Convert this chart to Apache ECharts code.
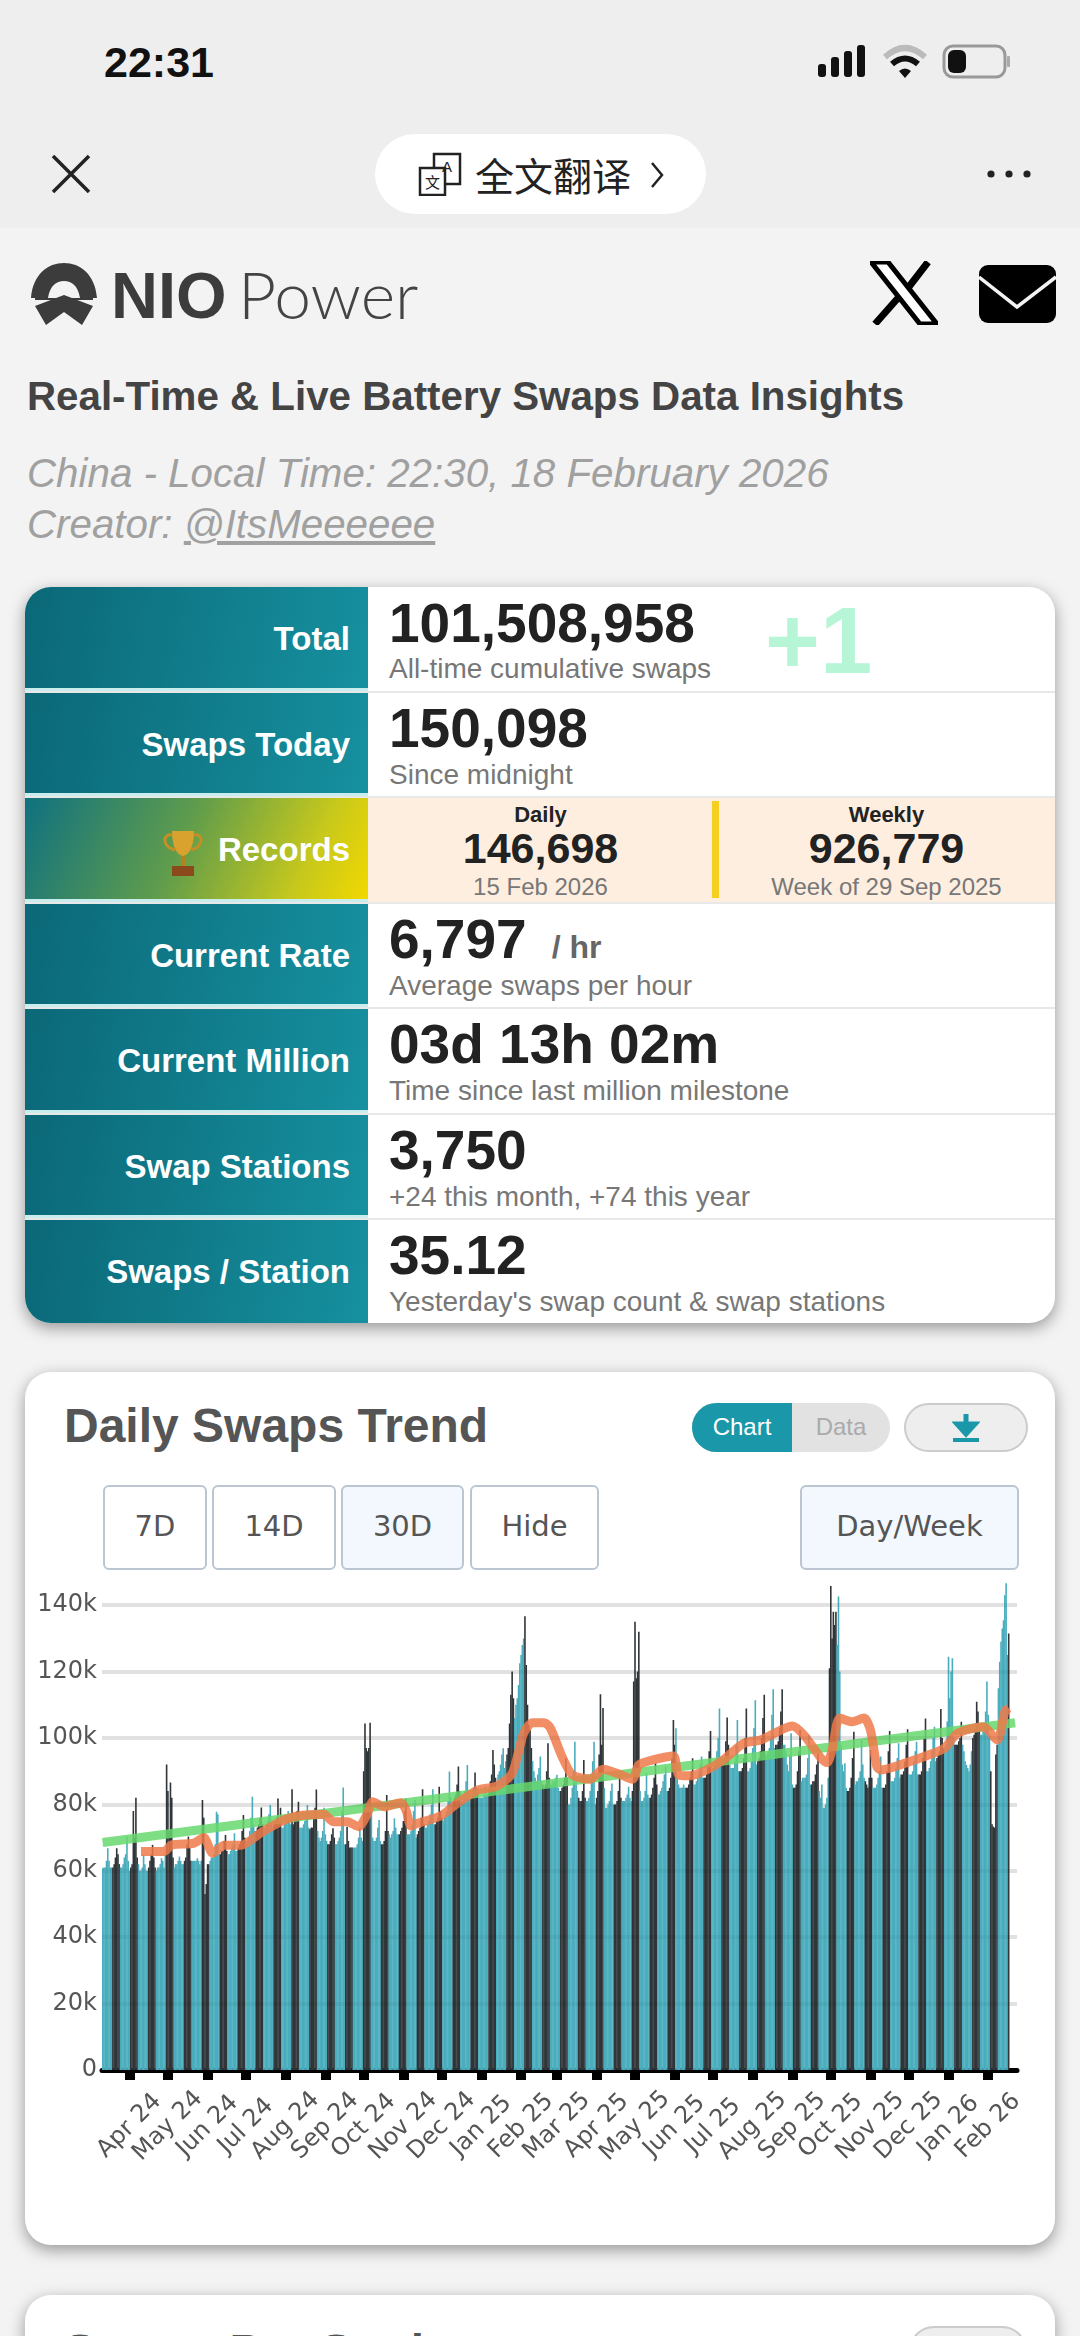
<!DOCTYPE html>
<html lang="en">
<head>
<meta charset="UTF-8">
<title>NIO Power - Battery Swaps</title>
<script src="https://cdn.jsdelivr.net/npm/echarts@6/dist/echarts.min.js"></script>
<style>
  html, body { margin: 0; padding: 0; }
  body { width: 1080px; height: 2336px; background: #f3f3f3; position: relative; overflow: hidden; font-family: "Liberation Sans", Arial, sans-serif; }
  .abs { position: absolute; white-space: nowrap; line-height: 1; }
  .topbar { position: absolute; left: 0; top: 0; width: 1080px; height: 228px; background: #eeeeee; }
  .pill { position: absolute; left: 375px; top: 134px; width: 331px; height: 80px; border-radius: 40px; background: #fff; }
  .card { position: absolute; left: 25px; width: 1030px; background: #fff; border-radius: 26px; box-shadow: 0 5px 16px rgba(0,0,0,.38); overflow: hidden; }
  .row { position: absolute; left: 0; width: 1030px; height: 105.5px; border-bottom: 2px solid #e8e8e8; box-sizing: border-box; }
  .row:last-child { border-bottom: 0; }
  .lab { position: absolute; left: 0; top: 0; width: 343px; height: 100%; box-sizing: border-box; padding-right: 18px; text-align: right; color: #fff; font-weight: bold; font-size: 33px; line-height: 103px; background: linear-gradient(100deg, #0b6877, #16909f); border-bottom: 3px solid #c9ecec; }
  .val { position: absolute; left: 364px; top: 8px; font-size: 55px; font-weight: bold; color: #222; line-height: 1; white-space: nowrap; }
  .sub { position: absolute; left: 364px; top: 68px; font-size: 28px; color: #777; line-height: 1; white-space: nowrap; }
  .rec { position: absolute; width: 345px; text-align: center; }
  .btn { position: absolute; top: 1485px; height: 85px; box-sizing: border-box; border: 2px solid #bcc6d2; border-radius: 6px; background: #fff; color: #555; font-family: "DejaVu Sans", sans-serif; font-size: 29px; line-height: 78px; text-align: center; }
  #main { position: absolute; left: 25px; top: 1560px; width: 1030px; height: 680px; }
</style>
</head>
<body>

<!-- phone status bar and browser bar -->
<div class="topbar"></div>
<div class="abs" style="left:104px;top:41px;font-size:43px;font-weight:bold;color:#111;">22:31</div>
<svg class="abs" style="left:815px;top:42px;" width="200" height="40">
  <rect x="3" y="22" width="8" height="13" rx="3" fill="#111"/>
  <rect x="16" y="15" width="8" height="20" rx="3" fill="#111"/>
  <rect x="29" y="9" width="8" height="26" rx="3" fill="#111"/>
  <rect x="42" y="3" width="8" height="32" rx="3" fill="#111"/>
  <path d="M70 15 Q90 -3 110 15" fill="none" stroke="#bbb" stroke-width="6"/>
  <path d="M77 22 Q90 11 103 22" fill="none" stroke="#111" stroke-width="6"/>
  <path d="M84 29 L90 36 L96 29 Q90 24 84 29 Z" fill="#111"/>
  <rect x="129" y="4" width="61" height="31" rx="9" fill="none" stroke="#999" stroke-width="3"/>
  <rect x="133" y="8" width="18" height="23" rx="6" fill="#111"/>
  <rect x="192" y="14" width="3" height="11" rx="1" fill="#aaa"/>
</svg>
<svg class="abs" style="left:50px;top:153px;" width="42" height="42">
  <path d="M3 3 L39 39 M39 3 L3 39" stroke="#222" stroke-width="3.5" fill="none"/>
</svg>
<div class="pill"></div>
<svg class="abs" style="left:418px;top:152px;" width="44" height="44">
  <rect x="16" y="2" width="26" height="30" fill="#fff" stroke="#222" stroke-width="2.5"/>
  <rect x="2" y="16" width="25" height="27" fill="#fff" stroke="#222" stroke-width="2.5"/>
  <text x="24" y="20" font-size="15" font-family="Liberation Sans" fill="#222">A</text>
  <text x="7" y="36" font-size="15" font-family="Noto Sans CJK SC" fill="#222">文</text>
</svg>
<div class="abs" style="left:475px;top:155px;font-size:39px;color:#222;font-family:'Noto Sans CJK SC';">全文翻译</div>
<svg class="abs" style="left:648px;top:160px;" width="18" height="30">
  <path d="M4 3 L14 15 L4 27" fill="none" stroke="#222" stroke-width="2.5"/>
</svg>
<svg class="abs" style="left:985px;top:167px;" width="50" height="14">
  <circle cx="6" cy="7" r="3.6" fill="#222"/><circle cx="24" cy="7" r="3.6" fill="#222"/><circle cx="42" cy="7" r="3.6" fill="#222"/>
</svg>

<!-- logo row -->
<svg class="abs" style="left:30px;top:262px;" width="70" height="64">
  <path d="M1 36 C3 12 18 1 34 1 C50 1 65 12 67 36 L50 36 C48 24 42 19 34 19 C26 19 20 24 18 36 Z" fill="#3c3c3c"/>
  <path d="M5 44 L34 33 L63 44 L52 63 L34 50 L16 63 Z" fill="#3c3c3c"/>
  <path d="M5 36 H63 V38 H5 Z" fill="#3c3c3c"/>
</svg>
<div class="abs" style="left:111px;top:263px;font-size:65px;font-weight:bold;color:#3c3c3c;">NIO</div>
<div class="abs" style="left:238px;top:261px;font-size:66px;font-family:Lato,'Noto Sans';font-weight:300;color:#444;">Power</div>
<svg class="abs" style="left:870px;top:261px;" width="68" height="64">
  <path d="M1 1 H18 L67 63 H50 Z" fill="#fff" stroke="#000" stroke-width="5"/>
  <path d="M58 1 L38 27 M28 37 L5 63" stroke="#000" stroke-width="7" fill="none"/>
</svg>
<svg class="abs" style="left:979px;top:265px;" width="77" height="58">
  <rect width="77" height="58" rx="9" fill="#000"/>
  <path d="M0 12 L38 42 L77 12" stroke="#f3f3f3" stroke-width="3.5" fill="none"/>
</svg>

<div class="abs" style="left:27px;top:377px;font-size:40.3px;font-weight:bold;color:#444;">Real-Time &amp; Live Battery Swaps Data Insights</div>
<div class="abs" style="left:27px;top:454px;font-size:40.3px;font-style:italic;color:#a0a0a0;">China - Local Time: 22:30, 18 February 2026</div>
<div class="abs" style="left:27px;top:505px;font-size:40.3px;font-style:italic;color:#a0a0a0;">Creator: <span style="text-decoration:underline;">@ItsMeeeeee</span></div>

<!-- stats table -->
<div class="card" style="top:587px;height:736px;">
  <div class="row" style="top:0;"><div class="lab">Total</div><div class="val" style="top:9px;">101,508,958</div><div class="sub">All-time cumulative swaps</div>
    <div class="abs" style="left:740px;top:7px;font-size:94px;font-weight:bold;color:#b6f5d6;">+1</div></div>
  <div class="row" style="top:105.5px;"><div class="lab">Swaps Today</div><div class="val">150,098</div><div class="sub">Since midnight</div></div>
  <div class="row" style="top:211px;background:#fdeee0;"><div class="lab" style="background:linear-gradient(115deg,#0f7180 0%,#5f9c4c 45%,#c6c81c 80%,#f2d800 100%);">Records</div>
    <svg class="abs" style="left:135px;top:31px;" width="46" height="50">
      <path d="M12 2 H34 C34 18 29 26 23 27 C17 26 12 18 12 2 Z" fill="#d9a22e"/>
      <path d="M12 6 C2 4 2 18 15 21 M34 6 C44 4 44 18 31 21" fill="none" stroke="#c48f25" stroke-width="3"/>
      <rect x="21" y="27" width="4" height="10" fill="#b9801f"/>
      <rect x="12" y="37" width="22" height="10" fill="#8a4a1c"/>
    </svg>
    <div class="rec" style="left:343px;top:0;">
      <div class="abs" style="left:0;width:345px;top:6px;font-size:22px;font-weight:bold;color:#222;">Daily</div>
      <div class="abs" style="left:0;width:345px;top:29px;font-size:43px;font-weight:bold;color:#222;">146,698</div>
      <div class="abs" style="left:0;width:345px;top:77px;font-size:24px;color:#777;">15 Feb 2026</div>
    </div>
    <div class="abs" style="left:687px;top:3px;width:7px;height:97px;background:#f5d020;"></div>
    <div class="rec" style="left:689px;top:0;">
      <div class="abs" style="left:0;width:345px;top:6px;font-size:22px;font-weight:bold;color:#222;">Weekly</div>
      <div class="abs" style="left:0;width:345px;top:29px;font-size:43px;font-weight:bold;color:#222;">926,779</div>
      <div class="abs" style="left:0;width:345px;top:77px;font-size:24px;color:#777;">Week of 29 Sep 2025</div>
    </div>
  </div>
  <div class="row" style="top:316.5px;"><div class="lab">Current Rate</div><div class="val">6,797<span style="font-size:32px;color:#666;margin-left:25px;">/ hr</span></div><div class="sub">Average swaps per hour</div></div>
  <div class="row" style="top:422px;"><div class="lab">Current Million</div><div class="val">03d 13h 02m</div><div class="sub">Time since last million milestone</div></div>
  <div class="row" style="top:527.5px;"><div class="lab">Swap Stations</div><div class="val">3,750</div><div class="sub">+24 this month, +74 this year</div></div>
  <div class="row" style="top:633px;"><div class="lab" style="border-bottom:0;">Swaps / Station</div><div class="val">35.12</div><div class="sub">Yesterday's swap count &amp; swap stations</div></div>
</div>

<!-- chart card -->
<div class="card" style="top:1372px;height:873px;"></div>
<div class="abs" style="left:64px;top:1402px;font-size:48px;font-weight:bold;color:#555;">Daily Swaps Trend</div>
<div class="abs" style="left:692px;top:1403px;width:198px;height:49px;border-radius:25px;background:#e2e2e2;overflow:hidden;">
  <div class="abs" style="left:0;top:0;width:100px;height:49px;background:#1a97a8;color:#fff;font-size:24px;line-height:47px;text-align:center;">Chart</div>
  <div class="abs" style="left:100px;top:0;width:98px;height:49px;color:#aaa;font-size:24px;line-height:47px;text-align:center;">Data</div>
</div>
<div class="abs" style="left:904px;top:1403px;width:124px;height:49px;box-sizing:border-box;border-radius:25px;background:#eeeeee;border:2px solid #ccc;"></div>
<svg class="abs" style="left:952px;top:1413px;" width="28" height="30">
  <path d="M14 1 V14 M5 11 L14 21 L23 11 Z" stroke="#1a97a8" stroke-width="5" fill="#1a97a8"/>
  <rect x="1" y="25" width="26" height="4" fill="#1a97a8"/>
</svg>
<div class="btn" style="left:103px;width:104px;">7D</div>
<div class="btn" style="left:212px;width:124px;">14D</div>
<div class="btn" style="left:341px;width:123px;background:#f2f8fd;">30D</div>
<div class="btn" style="left:470px;width:129px;">Hide</div>
<div class="btn" style="left:800px;width:219px;background:#f2f8fd;">Day/Week</div>
<div id="main"></div>

<!-- next card, cut off by the screen -->
<div class="card" style="top:2295px;height:80px;"></div>
<div class="abs" style="left:64px;top:2328px;font-size:48px;font-weight:bold;color:#555;">Swaps Per Station</div>
<div class="abs" style="left:909px;top:2326px;width:114px;height:49px;border-radius:25px;background:#eeeeee;border:2px solid #ccc;"></div>

<script>
// dates
var firstDay = '2024-03-11';
var trailingDays = 6;   // empty room right of the last bar

var tickDates = ['2024-04-01','2024-05-01','2024-06-01','2024-07-01','2024-08-01','2024-09-01','2024-10-01','2024-11-01','2024-12-01',
  '2025-01-01','2025-02-01','2025-03-01','2025-04-01','2025-05-01','2025-06-01','2025-07-01','2025-08-01','2025-09-01','2025-10-01','2025-11-01','2025-12-01',
  '2026-01-01','2026-02-01'];
var tickLabels = ['Apr 24','May 24','Jun 24','Jul 24','Aug 24','Sep 24','Oct 24','Nov 24','Dec 24',
  'Jan 25','Feb 25','Mar 25','Apr 25','May 25','Jun 25','Jul 25','Aug 25','Sep 25','Oct 25','Nov 25','Dec 25',
  'Jan 26','Feb 26'];

// swaps per day in thousands, one row = one week
var dailySwapsK = [
  60.8,61,61,63,66.8,63,61,
  61,61,62,64,66.8,65,62,
  61,61,62,64,65,70.3,63,
  60,61,62,78,70,82,64,
  62,60,60,61,64.8,62,60,
  60,61,63,65,67.8,64,61,
  60,61,61,62,63.8,63,61,
  65,92,84,72,86.6,82,64,
  61,62,62,63,64.3,63,62,
  62,63,64,68,70.3,67,63,
  63,63,63,63,63.8,63,62,
  63,81.3,76,53,56,62,62,
  63,64,64,65,68,77.8,77,
  65,65,66,66,69,70.8,66,
  65,65,66,67,68,71.3,66,
  66,67,68,69,72,76.8,70,
  69,69,70,72,76,82.3,74,
  72,72,73,74,76,79.1,74,
  73,73,74,75,77,79.8,74,
  73,74,75,76,81.8,75,79,
  73,73,74,75,76,78,76,
  74,84.6,74,75,76,78,80.8,
  73,73,73,74,75,76,79.8,
  73,72.5,73,73,76,79,84.5,
  72,70,69,70,72,79,71,
  69,68,68,69,71,72.8,70,
  68,68,69,70,72,78,85.1,
  68,68,73.3,69,67,67,67,
  67,67,67,68,70,73,70,
  69,90,104.4,97,96,97,104.6,
  78,70,69,69,70,73,75.3,
  69,68,68,69,72,82.8,72,
  71,70,71,72,75.8,73,71,
  71,71,72,73,75,78,81.8,
  71,71,71,72,74,78,81.3,
  70,71,72,73,76,84.6,74,
  73,73,74,75,77,80,84.6,
  74,74,75,76,85.3,78,76,
  75,76,77,78,81,89.9,82,
  80,81,82,83,86,91.4,84,
  81,81,82,84,87,91.9,84,
  82,82,83,85,89.6,85,83,
  82,82,82,82,83,85.3,83,
  83,85,87,89,96.4,92,88,
  87,89,90,92,95,96.9,91,
  93,95,97,104.4,113,120,112,
  106,110,112,116,122.5,125,128,
  130,136.7,122,110,104,102.4,97,
  93,90,88,87,89,91,94.4,
  87,86,85,86,90,98.4,88,
  86,86,87,87,88,88.9,85,
  84,84,85,86,88,93.9,88,
  80,80,82,85,90,98.9,88,
  84,82,81,81,84,93.4,82,
  81,81,82,84,88,93,98.9,
  80,82,84,95,113.2,98,109,
  85,79,79,80,81,84,86.3,
  80,80,80,81,84,88.9,82,
  81,81,81,82,83,85.3,82,
  81,84,117,135,118,120,132,
  84,81,81,82,84,89.4,83,
  82,82,83,85,88,92.4,86,
  83,83,84,85,87,89,91.4,
  84,84,85,88,94,105.4,98,
  102.9,88,86,85,85,85,86,
  85,85,85,86,88,90,93.9,
  86,86,87,88,90,92,94.4,
  88,88,88,89,92,96,102.1,
  90,91,92,93,96,100,108.9,
  92,92,92,94,99,106.2,98,
  92,91,91,91,93,98,105.4,
  90,90,90,91,94,100,108.9,
  90,90,91,93,97,103,111.4,
  92,93,94,96,100,106,113,
  95,95,96,97,100,107,114.7,
  97,98,98,99,103,108,114.7,
  98,98,96,92,90,95,101.4,
  86,85,85,86,90,96,102.4,
  87,88,88,88,89,94,100.9,
  86,86,87,87,89,92,95.4,
  84,82,86,79,79,80,82,
  88,121,145.8,130,138,134,138,
  128,142.6,120,98,92,90,92.4,
  85,84,84,85,88,94,101.9,
  86,87,87,88,90,99.4,92,
  88,87,86,85,88,96.4,88,
  85,85,85,86,88,90,94.4,
  85,85,85,86,90,96,102.1,
  87,87,87,88,91,94,98.4,
  88,89,89,90,93,98,102.6,
  89,89,89,90,93,96,98.9,
  89,89,89,90,94,100,105.9,
  90,90,91,93,96,100,103.4,
  93,94,95,96,108.7,100,97,
  97,98,105,124.5,112,120,124,
  100,98,98,98,99,100,104.9,
  98,96,93,91.9,91,90,92,
  96,100,101,103,110.9,108,104,
  101,101,102,104,108,117,107,
  101,90,74,73.3,73,95,98,
  115,123,129,133,135.5,143,146.6,
  125,131.5
];

// 30 day average as [day number, thousands], read point by point
var averagePoints = [[30,65.8],[48,65.8],[54,67.8],[71,68.3],[79,70],[86,65.3],[95,67.7],[108,67.7],[123,71.3],[139,74.8],[152,76.5],[173,77],
  [180,74.8],[191,74.8],[200,73.3],[207,77.3],[211,80.8],[220,79.3],[233,80.5],[237,78.3],[241,73.5],[246,74.3],[264,76.5],[277,80.3],[293,84.3],
  [308,85.5],[320,89.4],[329,101.4],[336,104.6],[345,104.6],[350,102.9],[359,94.4],[367,88.9],[381,87.6],[391,90.6],[405,88.9],[414,87.6],[419,91.9],
  [430,93.4],[446,94.6],[450,88.9],[459,88.6],[472,90.4],[485,93.4],[501,98.4],[514,99.4],[530,102.4],[539,103.6],[548,100.9],[566,92.6],[570,96.4],
  [576,106],[586,104.9],[595,106],[600,102.4],[605,91.4],[608,90.4],[623,91.9],[649,95.4],[658,97],[668,101.4],[688,103.4],[699,99.4],[705,107.9],[708,109]];

// straight trend line, two ends
var trendPoints = [[0,68.5],[713,104.6]];

var yTicks = [0,20,40,60,80,100,120,140];

var days = [];
var d0 = new Date(firstDay + 'T00:00:00Z');
for (var i = 0; i < dailySwapsK.length + trailingDays; i++) {
  days.push(new Date(d0.getTime() + i * 86400000).toISOString().slice(0, 10));
}

// dark stripes repeat every two weeks
function barColor(params) {
  return params.dataIndex % 14 >= 8 ? '#2f3538' : '#4aadbd';
}

var chartDom = document.getElementById('main');
var myChart = echarts.init(chartDom);
var option;

option = {
  animation: false,
  grid: { left: 77, top: 12, width: 915, height: 498 },
  xAxis: {
    type: 'category',
    data: days,
    boundaryGap: true,
    axisLine: { lineStyle: { color: '#000', width: 5 } },
    axisTick: {
      show: true,
      alignWithLabel: true,
      length: 10,
      interval: function (index, value) { return tickDates.indexOf(value) >= 0; },
      lineStyle: { color: '#000', width: 10 }
    },
    axisLabel: {
      interval: function (index, value) { return tickDates.indexOf(value) >= 0; },
      formatter: function (value) { return tickLabels[tickDates.indexOf(value)]; },
      rotate: 45,
      align: 'center',
      verticalAlign: 'middle',
      margin: 56,
      color: '#555',
      fontSize: 24,
      fontFamily: 'DejaVu Sans'
    }
  },
  yAxis: {
    type: 'value',
    min: 0,
    max: 150,
    interval: 20,
    axisLine: { show: false },
    axisTick: { show: false },
    axisLabel: {
      margin: 5,
      color: '#555',
      fontSize: 24,
      fontFamily: 'DejaVu Sans',
      formatter: function (v) {
        if (yTicks.indexOf(v) < 0) return '';
        return v === 0 ? '0' : v + 'k';
      }
    },
    splitLine: { showMaxLine: false, lineStyle: { color: '#ebebeb', width: 4 } }
  },
  series: [
    {
      name: 'Daily swaps',
      type: 'bar',
      data: dailySwapsK,
      barWidth: 1.6,
      itemStyle: { color: barColor },
      // grid shows faintly through the bars
      markLine: {
        silent: true,
        symbol: 'none',
        label: { show: false },
        lineStyle: { color: 'rgba(0,0,0,0.04)', width: 4, type: 'solid' },
        data: yTicks.slice(1).map(function (v) { return { yAxis: v }; })
      }
    },
    {
      name: 'Trend',
      type: 'line',
      data: trendPoints,
      showSymbol: false,
      lineStyle: { color: '#66d86e', width: 9, opacity: 0.85 },
      z: 3
    },
    {
      name: '30D average',
      type: 'line',
      data: averagePoints,
      showSymbol: false,
      smooth: 0.25,
      lineStyle: { color: '#f07a4a', width: 9, opacity: 0.85 },
      z: 4
    }
  ]
};

option && myChart.setOption(option);
</script>
</body>
</html>
